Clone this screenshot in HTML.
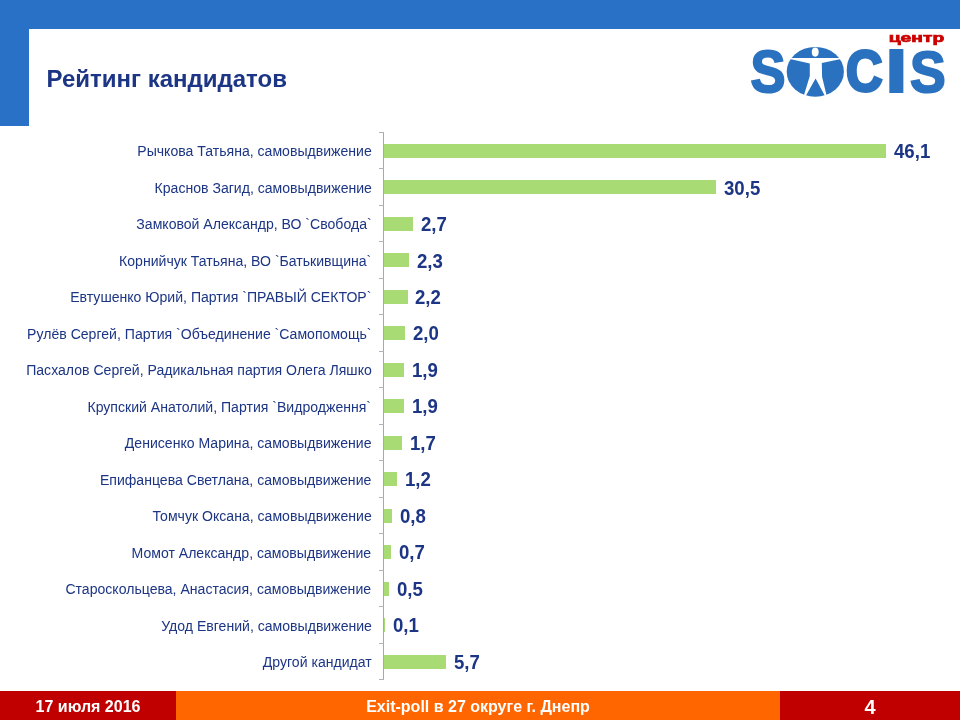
<!DOCTYPE html>
<html lang="ru">
<head>
<meta charset="utf-8">
<title>Рейтинг кандидатов</title>
<style>
html,body{margin:0;padding:0;}
body{width:960px;height:720px;position:relative;overflow:hidden;background:#fff;font-family:"Liberation Sans",Arial,sans-serif;}
.abs{position:absolute;}
.topbar{left:0;top:0;width:960px;height:29px;background:#2970C7;}
.leftbar{left:0;top:0;width:29px;height:126px;background:#2970C7;}
h1{position:absolute;left:46.5px;top:65px;margin:0;font-size:24px;line-height:28px;font-weight:bold;color:#1C3584;white-space:nowrap;letter-spacing:0;}
.lbl{position:absolute;right:588.5px;height:20px;line-height:20px;font-size:14.7px;transform:scaleX(0.958);transform-origin:100% 50%;color:#1C3584;white-space:nowrap;text-align:right;}
.bar{position:absolute;left:383.5px;height:14.4px;background:#A8DB73;}
.val{position:absolute;height:22px;line-height:22px;font-size:19.6px;transform:scaleX(0.95);transform-origin:0 50%;font-weight:bold;color:#1C3584;white-space:nowrap;}
.axis{position:absolute;left:383px;top:132px;width:1px;height:547px;background:#A6A7B6;}
.tick{position:absolute;left:379px;width:5px;height:1px;background:#B0B1BE;}
.foot{position:absolute;top:691px;height:29px;line-height:31px;color:#fff;font-weight:bold;font-size:16px;text-align:center;white-space:nowrap;}
.f1{left:0;width:176px;background:#C00000;}
.f2{left:176px;width:604px;background:#FF6600;}
.f3{left:780px;width:180px;background:#C00000;font-size:20px;line-height:32px;}
</style>
</head>
<body>
<div class="abs topbar"></div>
<div class="abs leftbar"></div>
<h1>Рейтинг кандидатов</h1>
<svg class="abs" style="left:740px;top:29px" width="220" height="75" viewBox="740 29 220 75" role="img" aria-label="SOCIS центр">
  <g font-family="'Liberation Sans',Arial,sans-serif" font-weight="bold" stroke-linejoin="miter">
    <text transform="translate(888.7 42.3) scale(1.44 1)" font-size="13.4" fill="#CC0000" stroke="#CC0000" stroke-width="0.7">центр</text>
    <g fill="#2A72BF" stroke="#2A72BF">
      <text transform="translate(750.44 91.85) scale(0.896 1)" font-size="58.5" stroke-width="2">S</text>
      <text transform="translate(794.5 91) scale(0.95 1)" font-size="56" stroke-width="0">O</text>
      <text transform="translate(845.89 91.35) scale(0.892 1)" font-size="56.66" stroke-width="3">C</text>
      <text transform="translate(887.2 90.71) scale(1.14 1)" font-size="57.43" stroke-width="4">I</text>
      <text transform="translate(909.94 91.85) scale(0.921 1)" font-size="58.1" stroke-width="2">S</text>
    </g>
  </g>
  <ellipse cx="815.3" cy="71.8" rx="28.6" ry="24.9" fill="#2A72BF"/>
  <g fill="#fff">
    <ellipse cx="815.2" cy="52.1" rx="3.45" ry="4.6"/>
    <path d="M790 57.9 L841 57.9 L841 59.1 L821.8 63.1 L822.1 76.9 L826.4 94.8 L824.7 95.4 L815.6 78.4 L806 95.4 L804.1 94.8 L809.8 76.1 L809.8 63.6 L790 59.1 Z"/>
  </g>
</svg>

<div class="lbl" style="top:141px">Рычкова Татьяна, самовыдвижение</div>
<div class="bar" style="top:143.55px;width:502.5px"></div>
<div class="val" style="top:140px;left:893.9px">46,1</div>
<div class="lbl" style="top:178px">Краснов Загид, самовыдвижение</div>
<div class="bar" style="top:180.05px;width:332.4px"></div>
<div class="val" style="top:177px;left:723.9px">30,5</div>
<div class="lbl" style="top:214px">Замковой Александр, ВО `Свобода`</div>
<div class="bar" style="top:216.55px;width:29.4px"></div>
<div class="val" style="top:213px;left:420.8px">2,7</div>
<div class="lbl" style="top:251px">Корнийчук Татьяна, ВО `Батькивщина`</div>
<div class="bar" style="top:253.05px;width:25.1px"></div>
<div class="val" style="top:250px;left:416.5px">2,3</div>
<div class="lbl" style="top:287px">Евтушенко Юрий, Партия `ПРАВЫЙ СЕКТОР`</div>
<div class="bar" style="top:289.55px;width:24.0px"></div>
<div class="val" style="top:286px;left:415.4px">2,2</div>
<div class="lbl" style="top:324px">Рулёв Сергей, Партия `Объединение `Самопомощь`</div>
<div class="bar" style="top:326.05px;width:21.8px"></div>
<div class="val" style="top:322px;left:413.2px">2,0</div>
<div class="lbl" style="top:360px">Пасхалов Сергей, Радикальная партия Олега Ляшко</div>
<div class="bar" style="top:362.55px;width:20.7px"></div>
<div class="val" style="top:359px;left:412.1px">1,9</div>
<div class="lbl" style="top:397px">Крупский Анатолий, Партия `Видродження`</div>
<div class="bar" style="top:399.05px;width:20.7px"></div>
<div class="val" style="top:395px;left:412.1px">1,9</div>
<div class="lbl" style="top:433px">Денисенко Марина, самовыдвижение</div>
<div class="bar" style="top:435.55px;width:18.5px"></div>
<div class="val" style="top:432px;left:409.9px">1,7</div>
<div class="lbl" style="top:470px">Епифанцева Светлана, самовыдвижение</div>
<div class="bar" style="top:472.05px;width:13.1px"></div>
<div class="val" style="top:468px;left:404.5px">1,2</div>
<div class="lbl" style="top:506px">Томчук Оксана, самовыдвижение</div>
<div class="bar" style="top:508.55px;width:8.7px"></div>
<div class="val" style="top:505px;left:400.1px">0,8</div>
<div class="lbl" style="top:543px">Момот Александр, самовыдвижение</div>
<div class="bar" style="top:545.05px;width:7.6px"></div>
<div class="val" style="top:541px;left:399.0px">0,7</div>
<div class="lbl" style="top:579px">Староскольцева, Анастасия, самовыдвижение</div>
<div class="bar" style="top:581.55px;width:5.5px"></div>
<div class="val" style="top:578px;left:396.8px">0,5</div>
<div class="lbl" style="top:616px">Удод Евгений, самовыдвижение</div>
<div class="bar" style="top:618.05px;width:1.1px"></div>
<div class="val" style="top:614px;left:392.5px">0,1</div>
<div class="lbl" style="top:652px">Другой кандидат</div>
<div class="bar" style="top:654.55px;width:62.1px"></div>
<div class="val" style="top:651px;left:453.5px">5,7</div>
<div class="axis"></div>
<div class="tick" style="top:131.75px"></div>
<div class="tick" style="top:168.25px"></div>
<div class="tick" style="top:204.75px"></div>
<div class="tick" style="top:241.25px"></div>
<div class="tick" style="top:277.75px"></div>
<div class="tick" style="top:314.25px"></div>
<div class="tick" style="top:350.75px"></div>
<div class="tick" style="top:387.25px"></div>
<div class="tick" style="top:423.75px"></div>
<div class="tick" style="top:460.25px"></div>
<div class="tick" style="top:496.75px"></div>
<div class="tick" style="top:533.25px"></div>
<div class="tick" style="top:569.75px"></div>
<div class="tick" style="top:606.25px"></div>
<div class="tick" style="top:642.75px"></div>
<div class="tick" style="top:679.25px"></div>
<div class="foot f1">17 июля 2016</div>
<div class="foot f2">Exit-poll в 27 округе г. Днепр</div>
<div class="foot f3">4</div>
</body>
</html>
